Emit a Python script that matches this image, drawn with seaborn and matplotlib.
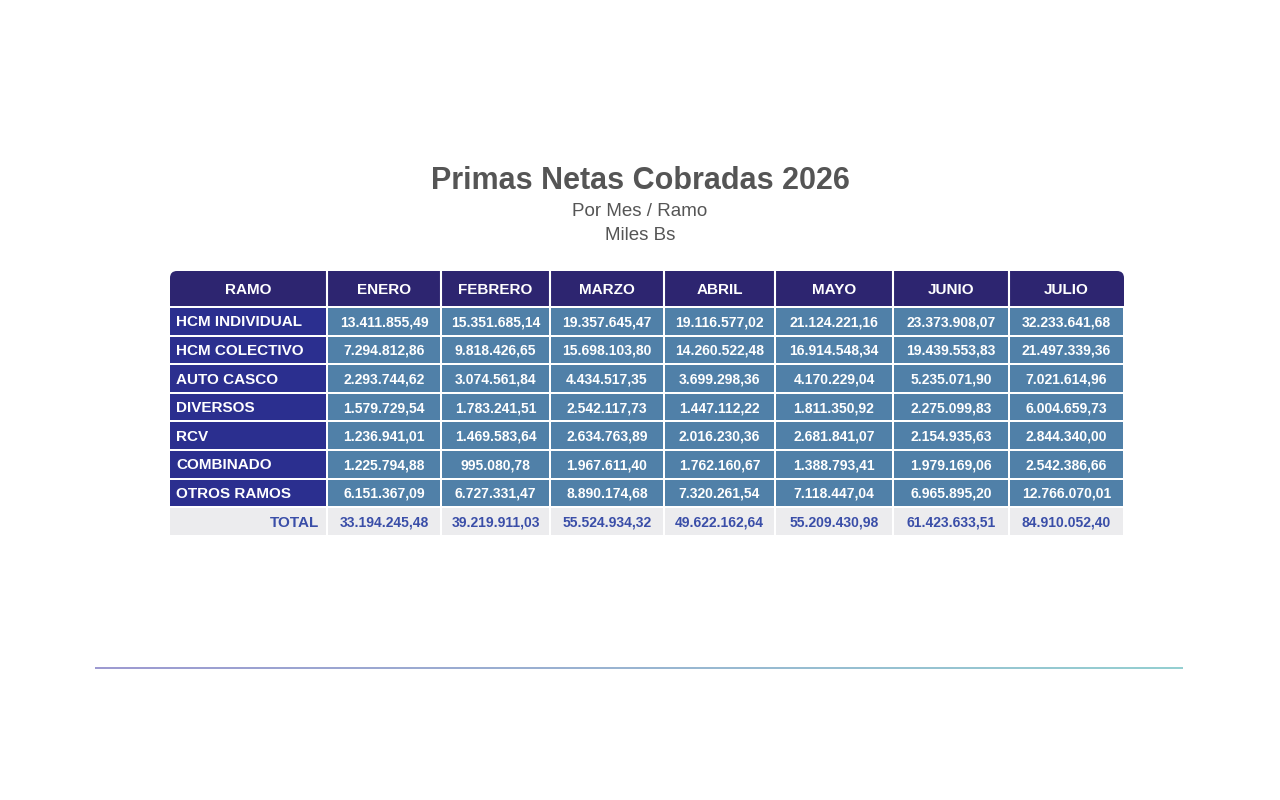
import matplotlib
matplotlib.use("Agg")
import matplotlib.pyplot as plt
import seaborn as sns
from matplotlib.patches import Rectangle, FancyBboxPatch
import numpy as np

sns.set_theme(style="white")
plt.rcParams['font.family'] = ['Liberation Sans', 'DejaVu Sans']

months = ["ENERO", "FEBRERO", "MARZO", "ABRIL", "MAYO", "JUNIO", "JULIO"]
ramos = ["HCM INDIVIDUAL", "HCM COLECTIVO", "AUTO CASCO", "DIVERSOS", "RCV", "COMBINADO", "OTROS RAMOS"]
hcm_individual = ["13.411.855,49", "15.351.685,14", "19.357.645,47", "19.116.577,02", "21.124.221,16", "23.373.908,07", "32.233.641,68"]
hcm_colectivo = ["7.294.812,86", "9.818.426,65", "15.698.103,80", "14.260.522,48", "16.914.548,34", "19.439.553,83", "21.497.339,36"]
auto_casco = ["2.293.744,62", "3.074.561,84", "4.434.517,35", "3.699.298,36", "4.170.229,04", "5.235.071,90", "7.021.614,96"]
diversos = ["1.579.729,54", "1.783.241,51", "2.542.117,73", "1.447.112,22", "1.811.350,92", "2.275.099,83", "6.004.659,73"]
rcv = ["1.236.941,01", "1.469.583,64", "2.634.763,89", "2.016.230,36", "2.681.841,07", "2.154.935,63", "2.844.340,00"]
combinado = ["1.225.794,88", "995.080,78", "1.967.611,40", "1.762.160,67", "1.388.793,41", "1.979.169,06", "2.542.386,66"]
otros_ramos = ["6.151.367,09", "6.727.331,47", "8.890.174,68", "7.320.261,54", "7.118.447,04", "6.965.895,20", "12.766.070,01"]
total = ["33.194.245,48", "39.219.911,03", "55.524.934,32", "49.622.162,64", "55.209.430,98", "61.423.633,51", "84.910.052,40"]
body = [hcm_individual, hcm_colectivo, auto_casco, diversos, rcv, combinado, otros_ramos]

fig = plt.figure(figsize=(12.8, 8), dpi=100)
ax = fig.add_axes([0, 0, 1, 1])
ax.set_xlim(0, 1280)
ax.set_ylim(800, 0)
ax.axis("off")

xb = [170, 327, 441, 550, 664, 775, 893, 1009, 1124]
hdr_top, hdr_bot = 271, 306
row_h = 28.6
gap = 2

HDR = "#2d2570"
RAMO = "#2b2f8f"
BODY = "#5080a8"
TOT_BG = "#ececee"
TOT_TX = "#3a4ea8"

# header background with rounded top
ax.add_patch(FancyBboxPatch((xb[0], hdr_top), xb[-1] - xb[0], hdr_bot - hdr_top,
                            boxstyle="round,pad=0,rounding_size=7", fc=HDR, ec="none"))
ax.add_patch(Rectangle((xb[0], hdr_top + 12), xb[-1] - xb[0], hdr_bot - hdr_top - 12, fc=HDR, ec="none"))
for i in range(1, 8):
    ax.plot([xb[i], xb[i]], [hdr_top, hdr_bot], color="white", lw=1.5)
labels = ["RAMO"] + months
for i, lab in enumerate(labels):
    ax.text((xb[i] + xb[i + 1]) / 2, (hdr_top + hdr_bot) / 2 + 1, lab, color="white",
            fontsize=11, fontweight="bold", ha="center", va="center")

for r, ramo in enumerate(ramos):
    y0 = hdr_bot + gap + r * row_h
    h = row_h - gap
    ax.add_patch(Rectangle((xb[0], y0), xb[1] - xb[0] - 1, h, fc=RAMO, ec="none"))
    ax.text(xb[0] + 6, y0 + h / 2 + 1, ramo, color="white", fontsize=11, fontweight="bold",
            ha="left", va="center")
    for c in range(7):
        ax.add_patch(Rectangle((xb[c + 1] + 1, y0), xb[c + 2] - xb[c + 1] - 2, h, fc=BODY, ec="none"))
        ax.text((xb[c + 1] + xb[c + 2]) / 2, y0 + h / 2 + 1, body[r][c], color="white",
                fontsize=10, fontweight="bold", ha="center", va="center")

y0 = hdr_bot + gap + 7 * row_h
h = 27
ax.add_patch(Rectangle((xb[0], y0), xb[1] - xb[0] - 1, h, fc=TOT_BG, ec="none"))
ax.text(xb[1] - 8, y0 + h / 2 + 1, "TOTAL", color=TOT_TX, fontsize=11, fontweight="bold",
        ha="right", va="center")
for c in range(7):
    ax.add_patch(Rectangle((xb[c + 1] + 1, y0), xb[c + 2] - xb[c + 1] - 2, h, fc=TOT_BG, ec="none"))
    ax.text((xb[c + 1] + xb[c + 2]) / 2, y0 + h / 2 + 1, total[c], color=TOT_TX,
            fontsize=10, fontweight="bold", ha="center", va="center")

ax.text(640, 181, "Primas Netas Cobradas 2026", fontsize=22, fontweight="bold", color="#555555",
        ha="center", va="center")
ax.text(640, 212, "Por Mes / Ramo", fontsize=13.5, color="#555555", ha="center", va="center")
ax.text(640, 236, "Miles Bs", fontsize=13.5, color="#555555", ha="center", va="center")

# gradient rule
xs = np.linspace(95, 1183, 200)
c1 = np.array(matplotlib.colors.to_rgb("#8a86c8"))
c2 = np.array(matplotlib.colors.to_rgb("#7fc6c8"))
for i in range(len(xs) - 1):
    t = i / (len(xs) - 2)
    ax.plot(xs[i:i + 2], [668, 668], color=c1 * (1 - t) + c2 * t, lw=1.2, solid_capstyle="butt")

fig.savefig("out.png", dpi=100, facecolor="white")
